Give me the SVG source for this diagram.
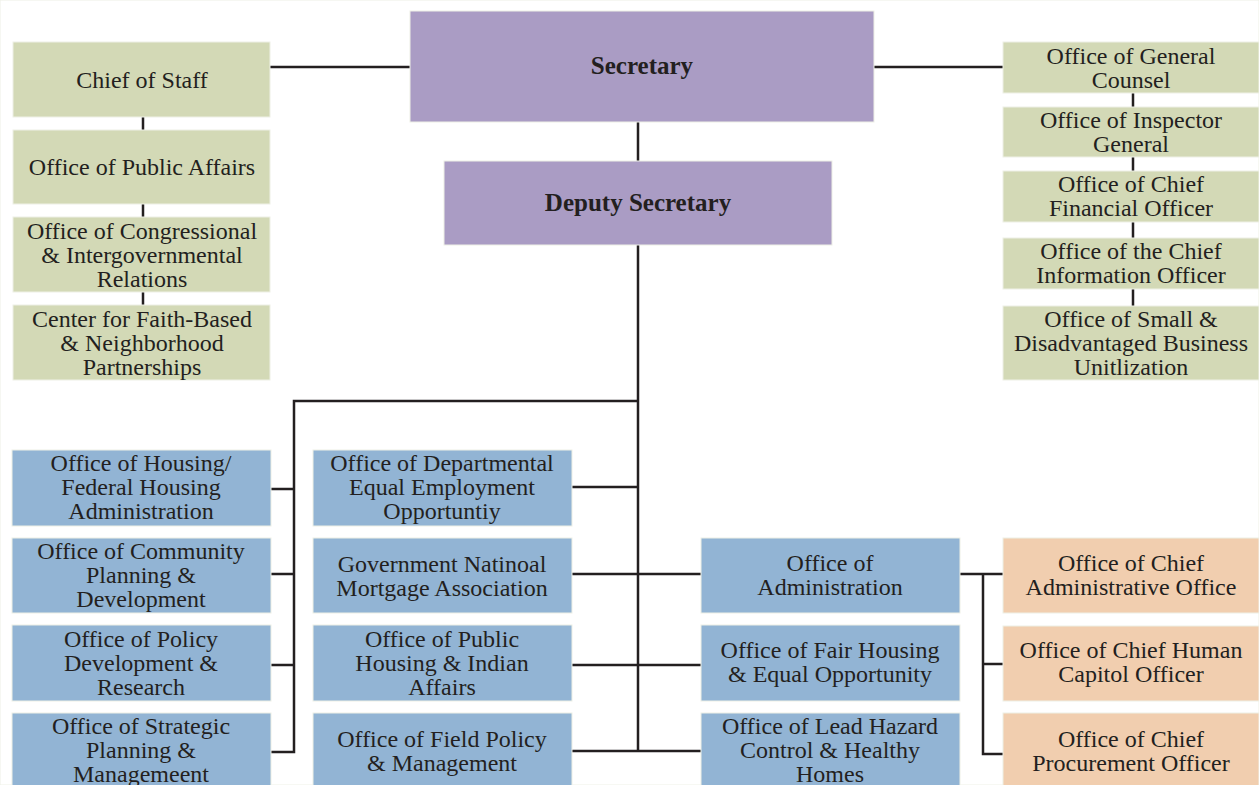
<svg xmlns="http://www.w3.org/2000/svg" width="1259" height="785" viewBox="0 0 1259 785">
<style>
.g{fill:#d3d9b6}
.p{fill:#aa9cc4}
.b{fill:#92b4d4}
.o{fill:#f1ceaf}
rect{stroke:#eef0e6;stroke-width:1}
text{font-family:"Liberation Serif","Times New Roman",serif;font-size:24px;fill:#231f20;text-anchor:middle}
.bold{font-weight:bold;font-size:25px}
.c{fill:none;stroke:#231f20;stroke-width:2.5}
</style>
<rect x="0" y="0" width="1259" height="785" fill="#ffffff" stroke="none"/>
<g id="connectors">
<path class="c" d="M270 67H410M874 67H1003M638 122V161M638 245V751"/>
<path class="c" d="M143 117V130M143 204V217M143 292V305"/>
<path class="c" d="M1133 93V107M1133 157V171M1133 222V238M1133 289V306"/>
<path class="c" d="M638 401H294V752H271M271 489H294M271 574H294M271 665H294"/>
<path class="c" d="M572 487H638M572 574H701M572 665H701M572 751H701"/>
<path class="c" d="M960 574H1003M983 574V754H1003M983 664H1003"/>
</g>
<g id="secretary"><rect class="p" x="410" y="11" width="464" height="111"/><text class="bold" x="642" y="74">Secretary</text></g>
<g id="deputy"><rect class="p" x="444" y="161" width="388" height="84"/><text class="bold" x="638" y="211">Deputy Secretary</text></g>
<g id="chief-staff"><rect class="g" x="13" y="42" width="257" height="75"/><text x="142" y="88">Chief of Staff</text></g>
<g id="public-affairs"><rect class="g" x="13" y="130" width="257" height="74"/><text x="142" y="175">Office of Public Affairs</text></g>
<g id="congressional"><rect class="g" x="13" y="217" width="257" height="75"/><text x="142" y="239">Office of Congressional</text><text x="142" y="263">&amp; Intergovernmental</text><text x="142" y="287">Relations</text></g>
<g id="faith"><rect class="g" x="13" y="305" width="257" height="75"/><text x="142" y="327">Center for Faith-Based</text><text x="142" y="351">&amp; Neighborhood</text><text x="142" y="375">Partnerships</text></g>
<g id="general-counsel"><rect class="g" x="1003" y="42" width="256" height="51"/><text x="1131" y="64">Office of General</text><text x="1131" y="88">Counsel</text></g>
<g id="inspector"><rect class="g" x="1003" y="107" width="256" height="50"/><text x="1131" y="128">Office of Inspector</text><text x="1131" y="152">General</text></g>
<g id="cfo"><rect class="g" x="1003" y="171" width="256" height="51"/><text x="1131" y="192">Office of Chief</text><text x="1131" y="216">Financial Officer</text></g>
<g id="cio"><rect class="g" x="1003" y="238" width="256" height="51"/><text x="1131" y="259">Office of the Chief</text><text x="1131" y="283">Information Officer</text></g>
<g id="small-business"><rect class="g" x="1003" y="306" width="256" height="74"/><text x="1131" y="327">Office of Small &amp;</text><text x="1131" y="351">Disadvantaged Business</text><text x="1131" y="375">Unitlization</text></g>
<g id="housing"><rect class="b" x="12" y="450" width="259" height="76"/><text x="141" y="471">Office of Housing/</text><text x="141" y="495">Federal Housing</text><text x="141" y="519">Administration</text></g>
<g id="community"><rect class="b" x="12" y="538" width="259" height="75"/><text x="141" y="559">Office of Community</text><text x="141" y="583">Planning &amp;</text><text x="141" y="607">Development</text></g>
<g id="policy"><rect class="b" x="12" y="625" width="259" height="76"/><text x="141" y="647">Office of Policy</text><text x="141" y="671">Development &amp;</text><text x="141" y="695">Research</text></g>
<g id="strategic"><rect class="b" x="12" y="713" width="259" height="80"/><text x="141" y="734">Office of Strategic</text><text x="141" y="758">Planning &amp;</text><text x="141" y="782">Managemeent</text></g>
<g id="eeo"><rect class="b" x="313" y="450" width="259" height="76"/><text x="442" y="471">Office of Departmental</text><text x="442" y="495">Equal Employment</text><text x="442" y="519">Opportuntiy</text></g>
<g id="ginnie"><rect class="b" x="313" y="538" width="259" height="75"/><text x="442" y="572">Government Natinoal</text><text x="442" y="596">Mortgage Association</text></g>
<g id="public-housing"><rect class="b" x="313" y="625" width="259" height="76"/><text x="442" y="647">Office of Public</text><text x="442" y="671">Housing &amp; Indian</text><text x="442" y="695">Affairs</text></g>
<g id="field-policy"><rect class="b" x="313" y="713" width="259" height="80"/><text x="442" y="747">Office of Field Policy</text><text x="442" y="771">&amp; Management</text></g>
<g id="administration"><rect class="b" x="701" y="538" width="259" height="75"/><text x="830" y="571">Office of</text><text x="830" y="595">Administration</text></g>
<g id="fair-housing"><rect class="b" x="701" y="625" width="259" height="76"/><text x="830" y="658">Office of Fair Housing</text><text x="830" y="682">&amp; Equal Opportunity</text></g>
<g id="lead-hazard"><rect class="b" x="701" y="713" width="259" height="80"/><text x="830" y="734">Office of Lead Hazard</text><text x="830" y="758">Control &amp; Healthy</text><text x="830" y="782">Homes</text></g>
<g id="cao"><rect class="o" x="1003" y="538" width="256" height="75"/><text x="1131" y="571">Office of Chief</text><text x="1131" y="595">Administrative Office</text></g>
<g id="chco"><rect class="o" x="1003" y="626" width="256" height="75"/><text x="1131" y="658">Office of Chief Human</text><text x="1131" y="682">Capitol Officer</text></g>
<g id="cpo"><rect class="o" x="1003" y="713" width="256" height="80"/><text x="1131" y="747">Office of Chief</text><text x="1131" y="771">Procurement Officer</text></g>
</svg>
